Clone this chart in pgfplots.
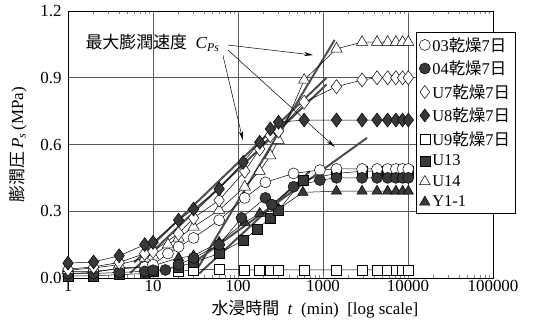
\documentclass[border=0pt]{standalone}
\usepackage{fontspec}
\setmainfont{Liberation Serif}
\newfontfamily\jp{Noto Sans CJK JP}
\usepackage{pgfplots}
\pgfplotsset{compat=1.18}
\usetikzlibrary{calc,arrows.meta}

\definecolor{regline}{gray}{0.3}
\definecolor{markfill}{gray}{0.22}

\begin{document}
\begin{tikzpicture}[x=1bp,y=1bp]
\begin{axis}[
  name=ax,
  xmode=log,
  width=425bp, height=267bp, scale only axis,
  xmin=1, xmax=100000, ymin=0, ymax=1.2,
  xtick={1,10,100,1000,10000,100000},
  xticklabels={1,10,100,1000,10000,100000},
  ytick={0,0.3,0.6,0.9,1.2},
  /pgf/number format/assume math mode=true,
  tick label style={font=\fontsize{17}{19}\selectfont},
  yticklabel style={xshift=-3bp, /pgf/number format/.cd, fixed, fixed zerofill, precision=1},
  xticklabel style={yshift=-1bp, inner ysep=1bp},
  major tick length=0pt,
  grid=major,
  major grid style={black!65, line width=0.6pt},
  axis line style={black, line width=0.9pt},
  xlabel={{\jp 水浸時間}\enspace\textit{t}\enspace(min)\enspace[log scale]},
  ylabel={{\jp 膨潤圧}\,\textit{P}\textsubscript{\textit{s}}\,(MPa)},
  every axis x label/.style={at={(axis description cs:0.581,-0.118)}, anchor=center,
    font=\fontsize{17}{19}\selectfont, inner sep=0pt},
  every axis y label/.style={at={(axis description cs:-0.118,0.5)}, rotate=90, anchor=center,
    font=\fontsize{17}{19}\selectfont},
  legend style={at={(0.819,0.921)}, anchor=north west, draw=black, line width=0.5pt,
    fill=white, font=\fontsize{16.5}{18}\selectfont, row sep=4.2bp,
    inner xsep=3bp, inner ysep=3bp},
  legend cell align=left,
  clip=false,
  every axis plot/.append style={line width=0.5pt, black},
]

% thick fitted lines (maximum swelling rate)
\addplot[forget plot, regline, line width=2pt] coordinates {(6,0.07) (1100,0.90)};
\addplot[forget plot, regline, line width=2pt] coordinates {(5.4,0.022) (1100,0.87)};
\addplot[forget plot, regline, line width=2pt] coordinates {(31,0.022) (1370,1.07)};
\addplot[forget plot, regline, line width=2pt] coordinates {(33,0.08) (3300,0.63)};
\addplot[forget plot, regline, line width=2pt] coordinates {(35,0.02) (700,0.48)};

% U9 dried 7 days
\addplot[forget plot, mark=square*, mark options={fill=white, draw=black}, mark size=5bp] coordinates {
 (20,0.03) (30,0.036) (60,0.04) (120,0.036) (180,0.036) (240,0.036) (300,0.036) (600,0.036)
 (1440,0.036) (2880,0.036) (4320,0.036) (5760,0.036) (7200,0.036) (8640,0.036) (10080,0.036)};
% Y1-1
\addplot[forget plot, mark=triangle*, mark options={fill=markfill, draw=black}, mark size=6bp] coordinates {
 (1,0.02) (2,0.025) (4,0.045) (8,0.05) (10,0.055) (20,0.09) (30,0.10) (60,0.16) (120,0.25)
 (180,0.29) (300,0.31) (580,0.385) (1440,0.39) (2880,0.39) (4320,0.39) (5760,0.39) (7200,0.39) (8640,0.39) (10080,0.39)};
% U13
\addplot[forget plot, mark=square*, mark options={fill=markfill, draw=black}, mark size=5bp] coordinates {
 (1,0.01) (2,0.01) (4,0.015) (8,0.02) (10,0.03) (20,0.05) (30,0.07) (60,0.11) (115,0.17)
 (170,0.22) (240,0.27) (300,0.305) (580,0.44) (1440,0.47) (2880,0.48) (4320,0.48) (5760,0.48) (7200,0.48) (8640,0.48) (10080,0.48)};
% 03 dried 7 days
\addplot[forget plot, mark=*, mark options={fill=white, draw=black}, mark size=5.5bp] coordinates {
 (1,0.03) (2,0.03) (4,0.04) (8,0.05) (10,0.06) (15,0.11) (20,0.14) (30,0.18) (60,0.26) (120,0.36)
 (210,0.43) (450,0.47) (920,0.485) (1440,0.49) (2880,0.49) (4320,0.49) (5760,0.49) (7200,0.49) (8640,0.49) (10080,0.49)};
% 04 dried 7 days
\addplot[forget plot, mark=*, mark options={fill=markfill, draw=black}, mark size=5.5bp] coordinates {
 (1,0.02) (2,0.02) (4,0.025) (8,0.03) (10,0.035) (14,0.036) (20,0.06) (30,0.09) (60,0.15) (110,0.27)
 (210,0.36) (250,0.33) (450,0.41) (920,0.44) (1440,0.45) (2880,0.45) (4320,0.45) (5760,0.45) (7200,0.45) (8640,0.45) (10080,0.45)};
% U14
\addplot[forget plot, mark=triangle*, mark options={fill=white, draw=black}, mark size=6.5bp] coordinates {
 (1,0.035) (2,0.045) (4,0.06) (8,0.09) (10,0.10) (15,0.15) (20,0.18) (30,0.23) (60,0.305) (120,0.41)
 (180,0.48) (240,0.55) (300,0.62) (600,0.89) (1440,1.03) (2880,1.06) (4320,1.06) (5760,1.06) (7200,1.06) (8640,1.06) (10080,1.06)};
% U7 dried 7 days
\addplot[forget plot, mark=diamond*, mark options={fill=white, draw=black}, mark size=7bp] coordinates {
 (1,0.04) (2,0.05) (4,0.07) (8,0.11) (10,0.12) (20,0.20) (30,0.27) (60,0.35) (120,0.48)
 (180,0.58) (240,0.64) (300,0.66) (600,0.79) (1440,0.86) (2880,0.89) (4320,0.90) (5760,0.90) (7200,0.90) (8640,0.90) (10080,0.90)};
% U8 dried 7 days
\addplot[forget plot, mark=diamond*, mark options={fill=markfill, draw=black}, mark size=7bp] coordinates {
 (1,0.067) (2,0.072) (4,0.10) (8,0.15) (10,0.16) (20,0.26) (30,0.31) (60,0.40) (115,0.52)
 (180,0.61) (240,0.67) (300,0.70) (600,0.71) (1440,0.71) (2880,0.71) (4320,0.71) (5760,0.71) (7200,0.71) (8640,0.71) (10080,0.71)};

% legend entries (markers only)
\pgfplotsset{legend image code/.code={\draw[#1] plot coordinates {(0.1cm,0cm)};}}
\addlegendimage{only marks, mark=*, mark options={fill=white, draw=black}, mark size=5.5bp}
\addlegendentry{03{\jp 乾燥}7{\jp 日}}
\addlegendimage{only marks, mark=*, mark options={fill=markfill, draw=black}, mark size=5.5bp}
\addlegendentry{04{\jp 乾燥}7{\jp 日}}
\addlegendimage{only marks, mark=diamond*, mark options={fill=white, draw=black}, mark size=6.5bp}
\addlegendentry{U7{\jp 乾燥}7{\jp 日}}
\addlegendimage{only marks, mark=diamond*, mark options={fill=markfill, draw=black}, mark size=6.5bp}
\addlegendentry{U8{\jp 乾燥}7{\jp 日}}
\addlegendimage{only marks, mark=square*, mark options={fill=white, draw=black}, mark size=5bp}
\addlegendentry{U9{\jp 乾燥}7{\jp 日}}
\addlegendimage{only marks, mark=square*, mark options={fill=markfill, draw=black}, mark size=5bp}
\addlegendentry{U13}
\addlegendimage{only marks, mark=triangle*, mark options={fill=white, draw=black}, mark size=6bp}
\addlegendentry{U14}
\addlegendimage{only marks, mark=triangle*, mark options={fill=markfill, draw=black}, mark size=6bp}
\addlegendentry{Y1-1}

% annotation
\node[anchor=west, font=\fontsize{17}{19}\selectfont, inner sep=0pt] at (axis cs:1.6,1.056)
  {{\jp 最大膨潤速度}\enspace\textit{C}\textsubscript{\textit{Ps}}};
\draw[-{Stealth[length=9bp,width=4bp]}, line width=0.5pt] (axis cs:76,1.047) -- (axis cs:764,1.002);
\draw[-{Stealth[length=9bp,width=4bp]}, line width=0.5pt] (axis cs:76,1.025) -- (axis cs:1375,0.589);
\draw[-{Stealth[length=9bp,width=4bp]}, line width=0.5pt] (axis cs:66.6,1.0) -- (axis cs:114,0.62);
\end{axis}
\pgfresetboundingbox
\path ($(ax.south west)+(-68bp,-45bp)$) rectangle ($(ax.north east)+(43bp,11bp)$);
\end{tikzpicture}
\end{document}
